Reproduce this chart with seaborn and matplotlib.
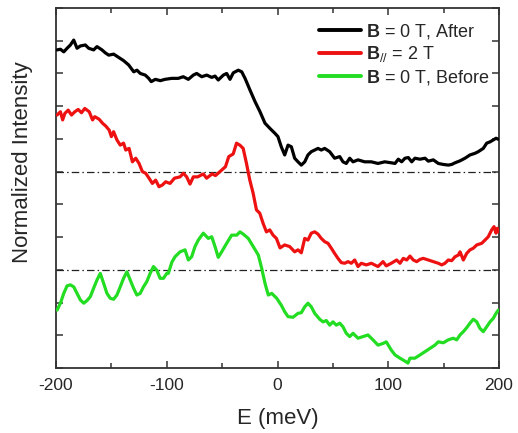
import numpy as np
import pandas as pd
import matplotlib
matplotlib.use("Agg")
import matplotlib.pyplot as plt
from matplotlib.ticker import MultipleLocator, NullFormatter
import seaborn as sns

# ---- spectra: energy (meV) and normalized intensity (offset for clarity) ----
E_after = [-199, -196, -193, -190, -187, -184, -181, -178, -173.5, -170.5, -166, -163, -158.5,
           -155.5, -152.4, -147.9, -143.4, -138.9, -134.4, -129.8, -126.9, -123.9, -119.4,
           -116.3, -114, -110.3, -105.8, -101.6, -95.5, -89.6, -85.1, -80.5, -76, -73, -68.4,
           -63.9, -59.4, -56.4, -53.5, -48.9, -45.9, -42.9, -39.9, -35.4, -32.3, -29.3, -24.8,
           -20.3, -15.8, -11.3, -6.8, -2.3, 0.4, 3.4, 6.5, 9.5, 12.5, 15.5, 18.5, 21.5, 24.6,
           27.5, 30.5, 33.6, 36.6, 39.5, 42.6, 47.1, 51.6, 56.2, 59.1, 62.1, 65.2, 68.2, 72.7,
           78.7, 84.7, 90.7, 96.8, 102.7, 106.1, 109.1, 112.1, 115.1, 118.1, 121.2, 124.1,
           128.7, 133.2, 136.2, 140.7, 145.2, 149.7, 154.2, 157.3, 160.3, 164.8, 169.3, 173.8,
           178.3, 181.3, 185.8, 188.9, 191.9, 194.9, 197.3, 199.4]
I_after = [9.72, 9.74, 9.66, 9.77, 9.87, 10.02, 9.77, 9.84, 9.87, 9.77, 9.72, 9.82, 9.72,
           9.63, 9.56, 9.59, 9.49, 9.39, 9.26, 9.05, 9.10, 9.00, 8.95, 8.85, 8.75, 8.82, 8.78,
           8.82, 8.85, 8.85, 8.90, 8.82, 8.95, 9.00, 8.90, 8.95, 8.88, 8.92, 8.80, 8.95, 9.00,
           8.82, 9.02, 9.10, 9.05, 8.85, 8.49, 8.14, 7.83, 7.48, 7.32, 7.17, 7.07, 6.76, 6.51,
           6.81, 6.76, 6.41, 6.30, 6.20, 6.30, 6.51, 6.61, 6.66, 6.71, 6.66, 6.71, 6.61, 6.41,
           6.46, 6.30, 6.25, 6.41, 6.30, 6.36, 6.30, 6.30, 6.25, 6.30, 6.27, 6.25, 6.38, 6.30,
           6.41, 6.43, 6.30, 6.41, 6.38, 6.41, 6.32, 6.36, 6.25, 6.22, 6.20, 6.22, 6.27, 6.33,
           6.41, 6.51, 6.56, 6.61, 6.71, 6.87, 6.91, 6.97, 7.02, 6.99]

E_par = [-199, -196, -194, -192, -189, -186, -183, -180, -177, -174, -170, -167, -165, -161,
         -158, -155, -152, -150, -148, -145, -142, -139, -137, -134, -131, -128, -125, -122,
         -119, -116, -113, -110, -107, -104, -101, -97, -93, -88, -85, -82, -79, -76, -72,
         -67, -64, -59, -56, -52, -47, -44, -40, -37, -34, -31, -28, -25, -22, -19, -16, -13,
         -10, -7, -4, -1, 2.3, 6.5, 11, 15.5, 18.5, 21.5, 24.6, 27.5, 30.5, 33.6, 36.6, 39.5,
         42.6, 45.6, 48.6, 51.6, 54.6, 57.6, 60.7, 63.7, 66.6, 69.7, 72.7, 75.7, 80.2, 84.7,
         90.7, 95.3, 98.2, 102.7, 107.6, 110.6, 113.6, 116.7, 119.6, 122.6, 125.7, 128.7,
         131.6, 136.2, 140.7, 145.2, 148.3, 151.2, 154.2, 157.3, 160.3, 163.3, 164.8, 167.8,
         170.8, 173.8, 176.8, 179.9, 184.4, 187.4, 190.3, 193.4, 195.5, 197.3, 198.5, 199.4]
I_par = [7.73, 7.83, 7.58, 7.78, 7.88, 7.73, 7.83, 7.90, 7.80, 7.93, 7.83, 7.58, 7.68, 7.60,
         7.48, 7.39, 7.27, 7.07, 7.22, 6.97, 6.81, 6.87, 6.66, 6.71, 6.30, 6.41, 6.25, 6.00,
         5.95, 5.80, 5.64, 5.74, 5.54, 5.59, 5.69, 5.64, 5.80, 5.84, 5.95, 5.84, 5.62, 5.84,
         5.84, 5.93, 5.80, 5.93, 5.88, 6.00, 6.15, 6.46, 6.54, 6.87, 6.81, 6.71, 6.25, 5.74,
         5.34, 4.83, 4.73, 4.42, 4.16, 4.22, 4.06, 3.96, 3.67, 3.76, 3.71, 3.55, 3.61, 3.52,
         3.96, 3.91, 4.12, 4.16, 4.09, 3.96, 3.86, 3.81, 3.66, 3.50, 3.35, 3.22, 3.20, 3.25,
         3.20, 3.30, 3.10, 3.20, 3.15, 3.20, 3.10, 3.25, 3.12, 3.20, 3.30, 3.20, 3.35, 3.30,
         3.42, 3.30, 3.25, 3.32, 3.35, 3.30, 3.25, 3.20, 3.15, 3.20, 3.30, 3.28, 3.40, 3.45,
         3.55, 3.30, 3.50, 3.61, 3.66, 3.76, 3.81, 3.91, 4.01, 4.22, 4.32, 4.12, 4.27, 4.16]

E_before = [-199, -196, -193, -190, -187, -184, -181, -178, -175, -172, -169, -166, -163, -160,
            -157, -154, -151, -148, -145, -142, -139, -136, -133, -130, -127, -124, -121, -118,
            -115, -112, -109, -106, -103, -100, -98.6, -95.3, -92.5, -88, -83.5, -80.5, -77.5,
            -74.5, -71.5, -67, -62.5, -59.4, -56.4, -53.5, -50.4, -45.9, -41.4, -36.8, -33.9,
            -30.9, -26.4, -21.9, -17.3, -14.3, -11.3, -8.3, -5.2, -0.7, 3.4, 6.5, 9.5, 14,
            18.5, 21.5, 24.6, 27.5, 30.5, 33.6, 38.1, 41.1, 44.1, 47.1, 50.1, 53.1, 56.2, 59.1,
            62.1, 65.2, 68.2, 72.7, 77.2, 81.7, 86.2, 90.7, 95.3, 98.2, 102.7, 106.1, 110.6,
            115.1, 117.8, 119.6, 124.1, 128.7, 133.2, 137.7, 142.2, 145.2, 149.7, 154.2, 158.7,
            161.8, 164.8, 167.8, 170.8, 173.8, 176.8, 179.9, 182.8, 185.8, 188.9, 191.9, 194.9,
            197.3, 199.4]
I_before = [1.77, 1.98, 2.28, 2.51, 2.54, 2.48, 2.28, 2.08, 1.98, 2.06, 2.18, 2.44, 2.69, 2.89,
            2.59, 2.28, 2.13, 2.10, 2.23, 2.48, 2.74, 2.94, 2.69, 2.44, 2.23, 2.28, 2.48, 2.64,
            2.89, 3.10, 2.99, 2.74, 2.74, 2.89, 2.89, 3.24, 3.40, 3.55, 3.61, 3.30, 3.40, 3.71,
            3.91, 4.12, 3.96, 4.01, 3.71, 3.38, 3.55, 3.81, 4.06, 4.06, 4.16, 4.09, 3.96, 3.71,
            3.45, 3.05, 2.59, 2.23, 2.28, 2.13, 1.92, 1.72, 1.57, 1.55, 1.67, 1.69, 1.87, 1.98,
            1.87, 1.67, 1.49, 1.41, 1.45, 1.31, 1.41, 1.31, 1.37, 1.26, 1.06, 0.96, 1.06, 0.91,
            0.96, 1.01, 0.86, 0.70, 0.75, 0.80, 0.55, 0.40, 0.30, 0.21, 0.15, 0.30, 0.30, 0.40,
            0.50, 0.60, 0.70, 0.80, 0.77, 0.86, 0.91, 0.86, 1.01, 1.11, 1.23, 1.37, 1.49, 1.41,
            1.21, 1.11, 1.26, 1.41, 1.52, 1.67, 1.77]

baselines = [3, 6]
x_ticks = [-200, -100, 0, 100, 200]

labels = [r"$\mathbf{B}$ = 0 T, After",
          r"$\mathbf{B}_{\mathit{//}}$ = 2 T",
          r"$\mathbf{B}$ = 0 T, Before"]
colors = ["#000000", "#ee1111", "#22dd22"]

sns.set_style("ticks")
plt.rcParams["font.family"] = ["Liberation Sans", "DejaVu Sans"]
plt.rcParams["mathtext.fontset"] = "custom"
plt.rcParams["mathtext.rm"] = "Liberation Sans"
plt.rcParams["mathtext.bf"] = "Liberation Sans:bold"
plt.rcParams["mathtext.it"] = "Liberation Sans:italic"

df = pd.concat([
    pd.DataFrame({"E": E_after, "I": I_after, "series": labels[0]}),
    pd.DataFrame({"E": E_par, "I": I_par, "series": labels[1]}),
    pd.DataFrame({"E": E_before, "I": I_before, "series": labels[2]}),
], ignore_index=True)

fig = plt.figure(figsize=(5.18, 4.33), dpi=100)
ax = fig.add_axes([56 / 518, 1 - 368 / 433, 443 / 518, 360 / 433])

for y0 in baselines:
    ax.axhline(y0, color="#222222", lw=0.9, ls=(0, (6, 2.5, 1.2, 2.5)), zorder=1)

sns.lineplot(data=df, x="E", y="I", hue="series", hue_order=labels,
             palette=dict(zip(labels, colors)), estimator=None, sort=False,
             lw=2.3, ax=ax, legend=False, zorder=3)

for lab, c in zip(labels, colors):
    ax.plot([], [], color=c, lw=2.8, label=lab)

ax.set_xlim(-200, 200)
ax.set_ylim(0, 11)
ax.set_xticks(x_ticks)
ax.xaxis.set_minor_locator(MultipleLocator(50))
ax.yaxis.set_major_locator(MultipleLocator(1))
ax.yaxis.set_major_formatter(NullFormatter())
ax.tick_params(axis="both", which="both", direction="in", top=True, right=True,
               color="#333333")
ax.tick_params(axis="both", which="major", length=5, width=1.1, labelsize=12.5, pad=7)
ax.tick_params(axis="x", which="minor", length=3.5, width=1.1)
ax.set_xticklabels([str(t) for t in x_ticks])

for sp in ax.spines.values():
    sp.set_color("#333333")
    sp.set_linewidth(1.3)

ax.set_xlabel("E (meV)", fontsize=16, va="center")
ax.xaxis.set_label_coords(0.5, -0.139)
ax.set_ylabel("Normalized Intensity", fontsize=16, va="center")
ax.yaxis.set_label_coords(-0.0745, 0.572)

leg = ax.legend(loc="upper left", bbox_to_anchor=(0.593, 0.962), frameon=False,
                fontsize=13, handlelength=2.35, handletextpad=0.28, labelspacing=0.2,
                borderpad=0, borderaxespad=0)

fig.savefig("out.png", dpi=100, facecolor="white")
